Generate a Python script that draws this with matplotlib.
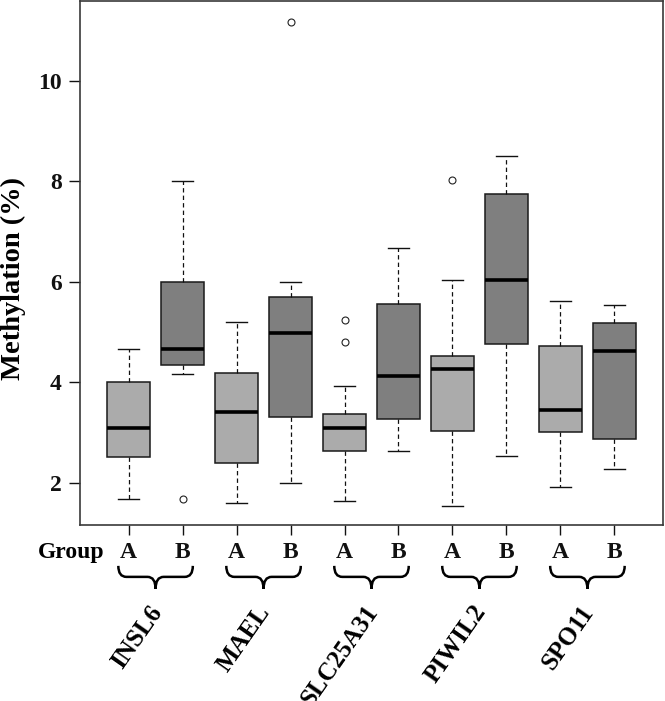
import matplotlib
matplotlib.use("Agg")
import matplotlib.pyplot as plt
from matplotlib import font_manager
from matplotlib.path import Path
from matplotlib.patches import PathPatch
from matplotlib.transforms import blended_transform_factory

plt.rcParams['font.family'] = ['Liberation Serif', 'DejaVu Serif']
plt.rcParams['font.weight'] = 'bold'


def fp(size):
    return font_manager.FontProperties(family=['Liberation Serif', 'DejaVu Serif'],
                                       weight="bold", size=size)


genes = ["INSL6", "MAEL", "SLC25A31", "PIWIL2", "SPO11"]
groups = ["A", "B"]

# box statistics, order: INSL6 A, INSL6 B, MAEL A, MAEL B, ...
whislo = [1.68, 4.17, 1.60, 2.00, 1.64, 2.63, 1.54, 2.53, 1.91, 2.27]
q1     = [2.51, 4.34, 2.39, 3.30, 2.63, 3.26, 3.03, 4.76, 3.01, 2.87]
med    = [3.10, 4.67, 3.41, 4.99, 3.10, 4.13, 4.27, 6.03, 3.45, 4.63]
q3     = [4.00, 6.00, 4.19, 5.69, 3.36, 5.55, 4.53, 7.75, 4.72, 5.18]
whishi = [4.67, 8.00, 5.20, 6.00, 3.93, 6.68, 6.03, 8.51, 5.62, 5.53]
fliers = [[], [1.68], [], [11.18], [5.25, 4.80], [], [8.02], [], [], []]
yticks = [2, 4, 6, 8, 10]

fill_colors = ["#ababab", "#7f7f7f"]

fig = plt.figure(figsize=(6.65, 7.01), dpi=100)
ax = fig.add_axes([80/665, 1 - 525/701, 583/665, 524/701])

stats = []
for i in range(len(med)):
    stats.append(dict(whislo=whislo[i], q1=q1[i], med=med[i], q3=q3[i],
                      whishi=whishi[i], fliers=fliers[i]))

positions = list(range(1, len(med) + 1))
bp = ax.bxp(stats, positions=positions, widths=0.8, patch_artist=True,
            boxprops=dict(linewidth=1.1, edgecolor="#1a1a1a"),
            medianprops=dict(color="black", linewidth=2.6, solid_capstyle="butt"),
            whiskerprops=dict(color="#111111", linewidth=0.9, linestyle=(0, (3.5, 2.5))),
            capprops=dict(color="#111111", linewidth=1.0),
            capwidths=0.4,
            flierprops=dict(marker="o", markersize=5, markerfacecolor="none",
                            markeredgecolor="#222222", markeredgewidth=0.8))
for i, b in enumerate(bp["boxes"]):
    b.set_facecolor(fill_colors[i % 2])

ax.set_xlim(0.1, 10.9)
ax.set_ylim(1.16, 11.59)
ax.set_yticks(yticks)
ax.set_yticklabels([str(t) for t in yticks], fontproperties=fp(17))
ax.set_xticks(positions)
ax.set_xticklabels([groups[i % 2] for i in range(len(med))], fontproperties=fp(17))
ax.tick_params(axis="y", length=8, width=1.0, pad=5, colors="#111111")
ax.tick_params(axis="x", length=7, width=1.0, pad=5, colors="#111111")
for s in ax.spines.values():
    s.set_linewidth(1.2)
    s.set_color("#3a3a3a")

fig.text(13/665, 1 - 279/701, "Methylation (%)", rotation=90, ha="center", va="center",
         fontproperties=fp(20.5))

trans = blended_transform_factory(ax.transData, ax.transAxes)
ax.text(0.55, -0.053, "Group", transform=trans, ha="right", va="center",
        fontproperties=fp(17), clip_on=False)

y0, y1, y2 = -0.078, -0.099, -0.122
hw, r = 0.69, 0.15
for g, gene in enumerate(genes):
    xc = 1.5 + 2 * g
    verts = [(xc - hw, y0), (xc - hw, y1), (xc - hw + r, y1),
             (xc - r, y1), (xc, y1), (xc, y2),
             (xc, y1), (xc + r, y1),
             (xc + hw - r, y1), (xc + hw, y1), (xc + hw, y0)]
    codes = [Path.MOVETO, Path.CURVE3, Path.CURVE3,
             Path.LINETO, Path.CURVE3, Path.CURVE3,
             Path.CURVE3, Path.CURVE3,
             Path.LINETO, Path.CURVE3, Path.CURVE3]
    patch = PathPatch(Path(verts, codes), transform=trans, fill=False,
                      edgecolor="black", linewidth=1.8, clip_on=False)
    ax.add_patch(patch)
    ax.text(xc + 0.03, -0.158, gene, transform=trans, rotation=55,
            rotation_mode="anchor", ha="right", va="center",
            fontproperties=fp(18), clip_on=False)

fig.savefig("out.png", dpi=100)
